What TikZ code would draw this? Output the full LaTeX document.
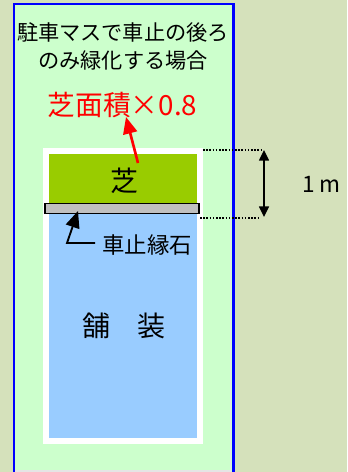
\documentclass[tikz,border=0pt]{standalone}
\usepackage{fontspec}
\setmainfont{Noto Sans CJK JP}
\usetikzlibrary{arrows.meta}
\definecolor{bggreen}{HTML}{D5E1BB}
\definecolor{lawngreen}{HTML}{CCFFCC}
\definecolor{turfgreen}{HTML}{99CC00}
\definecolor{pavingblue}{HTML}{99CCFF}
\definecolor{curbgray}{HTML}{C0C0C0}
\tikzset{
  label16/.style={inner sep=0pt,font=\fontsize{15.9}{20.5}\selectfont,align=center},
  label21/.style={inner sep=0pt,font=\fontsize{21}{25}\selectfont},
  dimline/.style={black,line width=0.9pt,dash pattern=on 1.2pt off 1.2pt},
  bigarrow/.style={-{Triangle[length=12.5pt,width=10.5pt]}}
}
\begin{document}
\begin{tikzpicture}[x=0.75pt,y=-0.75pt]
        \useasboundingbox (0,0) rectangle (347,472);
        \fill[bggreen] (0,0) rectangle (347,472);
        \fill[lawngreen] (13,3) rectangle (234,472);
        \draw[white!80!gray,line width=0.9pt] (230.5,63) -- (230.5,471) -- (15,471);
        \draw[blue,line width=1.7pt] (13.8,472) -- (13.8,4) -- (233.5,4) -- (233.5,472);
        \fill[white] (43,148) rectangle (203,444);
        \fill[turfgreen] (49,154) rectangle (197,204);
        \fill[pavingblue] (49,213) rectangle (197,438);
        \draw[black,fill=curbgray,line width=0.9pt] (45,203.5) rectangle (199,213.5);
        \node[label16] (title) at (123,46.5) {駐車マスで車止の後ろ\\のみ緑化する場合};
        \node[inner sep=0pt,red,font=\fontsize{20.8}{24}\selectfont] (ratio) at (122.5,105) {芝面積×0.8};
        \node[label21] (turf) at (124,181) {芝};
        \node[inner sep=0pt,font=\fontsize{16.8}{20}\selectfont] (curb) at (147,245) {車止縁石};
        \node[label21] (paving) at (124,326) {舗　装};
        \node[inner sep=0pt,font=\fontsize{17}{20}\selectfont] (height) at (321.5,184) {1 m};
        \coordinate (turfend) at (138,163);
        \coordinate (ratiotip) at (126,117);
        \coordinate (curbtip) at (78,211);
        \coordinate (curbbend) at (67,243);
        \coordinate (curbend) at (95,243);
        \coordinate (uppera) at (203,150);
        \coordinate (upperb) at (263,150);
        \coordinate (lowera) at (200,218);
        \coordinate (lowerb) at (260,218);
        \coordinate (spantop) at (264,150);
        \coordinate (spanbottom) at (264,217);
        \draw[red,line width=2pt,bigarrow] (turfend) -- (ratiotip);
        \draw[black,line width=1.4pt,bigarrow] (curbend) -- (curbbend) -- (curbtip);
        \draw[dimline] (uppera) -- (upperb);
        \draw[dimline] (lowera) -- (lowerb);
        \draw[black,line width=1.1pt,{Triangle[length=8pt,width=7.5pt]}-{Triangle[length=8pt,width=7.5pt]}] (spantop) -- (spanbottom);
\end{tikzpicture}
\end{document}
